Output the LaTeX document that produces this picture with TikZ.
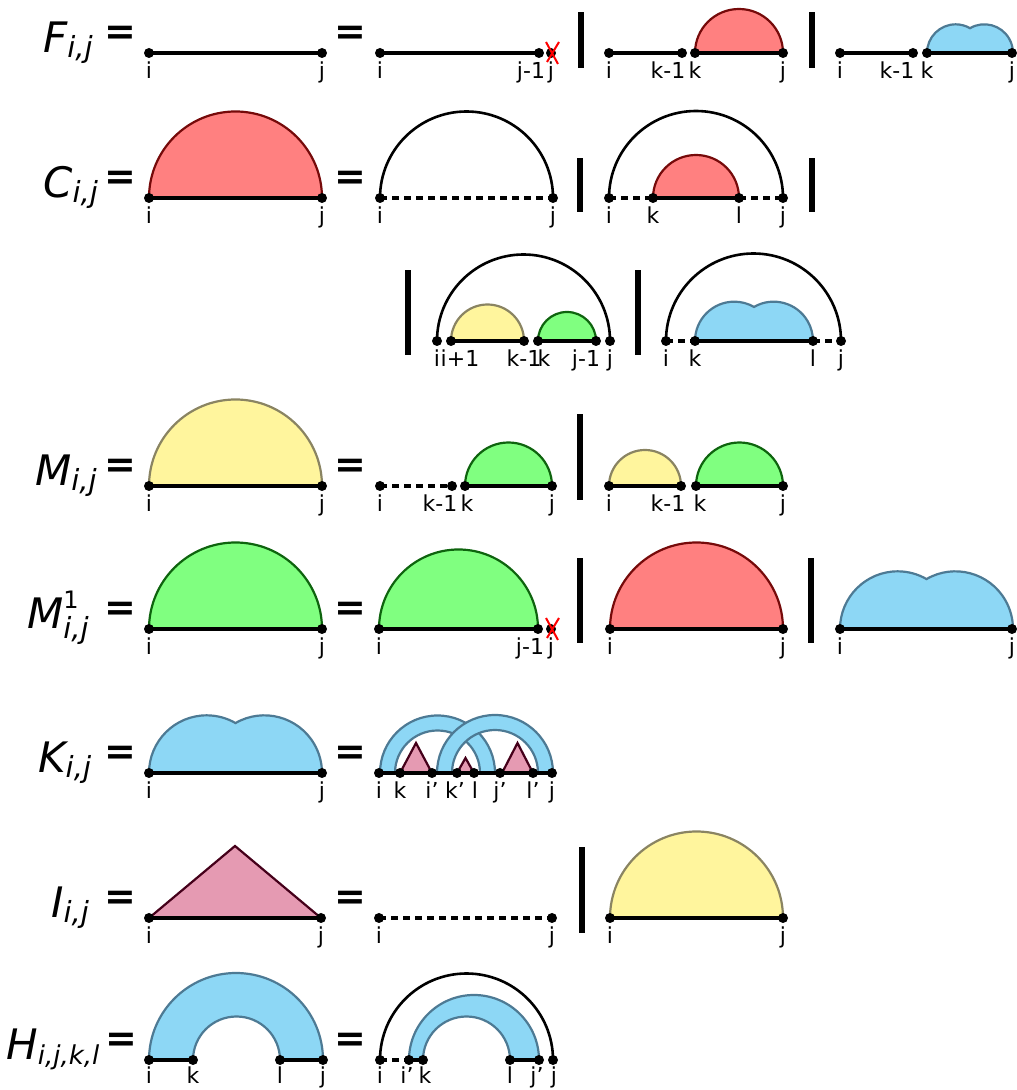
\documentclass[tikz,border=0pt]{standalone}
\usepackage{fontspec}
\setmainfont{DejaVu Sans}
\usepackage{xcolor}
\definecolor{cRed}{HTML}{FF8080}
\definecolor{cRedLine}{HTML}{760A0A}
\definecolor{cBlue}{HTML}{8DD7F5}
\definecolor{cBlueLine}{HTML}{4D7A94}
\definecolor{cYellow}{HTML}{FFF59D}
\definecolor{cYellowLine}{HTML}{8A8462}
\definecolor{cGreen}{HTML}{80FF80}
\definecolor{cGreenLine}{HTML}{0E640E}
\definecolor{cPink}{HTML}{E59AB2}
\definecolor{cPinkLine}{HTML}{45001A}
\usepackage{tikz}
\usetikzlibrary{positioning}
\tikzset{
  node-name/.style={anchor=base west,inner sep=0pt,
    font=\fontsize{42}{42}\selectfont\itshape},
  node-eq/.style={inner sep=0pt,font=\fontsize{38}{38}\selectfont\bfseries},
  node-lab/.style={anchor=base,inner sep=0pt,font=\fontsize{22}{22}\selectfont},
  line-solid/.style={line width=4.6pt},
  line-dot/.style={line width=4.6pt,dash pattern=on 7pt off 5pt},
  line-bar/.style={line width=5.5pt},
  line-hoop/.style={line width=2.6pt},
  loop-red/.style={fill=cRed,draw=cRedLine,line width=2.2pt},
  loop-blue/.style={fill=cBlue,draw=cBlueLine,line width=2.2pt},
  loop-yellow/.style={fill=cYellow,draw=cYellowLine,line width=2.2pt},
  loop-green/.style={fill=cGreen,draw=cGreenLine,line width=2.2pt},
  loop-pink/.style={fill=cPink,draw=cPinkLine,line width=2.2pt},
  mark-cross/.style={draw=red,line width=2pt},
}
\newcounter{pnt}
% point on the backbone with its label below
\newcommand{\pnt}[3][]{\stepcounter{pnt}\fill (#2,0) circle[radius=5pt];
  \node[node-lab,#1] (p\thepnt) at (#2,-26) {#3};}
\newcommand{\halfdisc}[3]{\path[#1] (#2,0)
  arc[start angle=180,end angle=0,radius={(#3-#2)/2*1pt}] -- cycle;}
\newcommand{\kbump}[3]{\path[#1] (#2,0)
  arc[start angle=180,end angle=60,radius={(#3-#2)/3*1pt}]
  arc[start angle=120,end angle=0,radius={(#3-#2)/3*1pt}] -- cycle;}
\newcommand{\band}[5]{\path[#1] (#2,0)
  arc[start angle=180,end angle=0,radius={(#3-#2)/2*1pt}] -- (#5,0)
  arc[start angle=0,end angle=180,radius={(#5-#4)/2*1pt}] -- cycle;}
\newcommand{\hoop}[2]{\draw[line-hoop] (#1,0)
  arc[start angle=180,end angle=0,radius={(#2-#1)/2*1pt}];}
\newcommand{\vbar}[3]{\draw[line-bar] (#1,#2) -- (#1,#3);}
\newcommand{\xout}[1]{\draw[mark-cross] (#1-6,11) -- (#1+6,-11) (#1+7,11) -- (#1-5,-9);}
\newcommand{\fname}[3][29]{#2\raisebox{-5pt}{\fontsize{#1}{#1}\selectfont #3}}

\begin{document}
\begin{tikzpicture}[x=1pt,y=1pt]
  \useasboundingbox (0,0) rectangle (1017,1090);

  % F
  \begin{scope}[yshift=1037pt]
    \node[node-name] (nF) at (43,0) {\fname{F}{i,j}};
    \node[node-eq] (eqF1) at (120,18) {=};
    \node[node-eq] (eqF2) at (350,18) {=};
    \draw[line-solid] (149,0) -- (322,0);
    \pnt{149}{i} \pnt{322}{j}
    \draw[line-solid] (380,0) -- (539,0);
    \pnt{380}{i} \pnt[xshift=-8pt]{539}{j-1} \pnt{551}{j} \xout{552}
    \vbar{581}{-15}{41}
    \halfdisc{loop-red}{695}{783}
    \draw[line-solid] (609,0) -- (682,0) (695,0) -- (783,0);
    \pnt{609}{i} \pnt[xshift=-14pt]{682}{k-1} \pnt{695}{k} \pnt{783}{j}
    \vbar{812}{-15}{41}
    \kbump{loop-blue}{927}{1013}
    \draw[line-solid] (840,0) -- (913,0) (927,0) -- (1013,0);
    \pnt{840}{i} \pnt[xshift=-16pt]{913}{k-1} \pnt{927}{k} \pnt{1012}{j}
  \end{scope}

  % C
  \begin{scope}[yshift=892pt]
    \node[node-name] (nC) at (43,0) {\fname{C}{i,j}};
    \node[node-eq] (eqC1) at (120,18) {=};
    \node[node-eq] (eqC2) at (350,18) {=};
    \halfdisc{loop-red}{149}{322}
    \draw[line-solid] (149,0) -- (322,0);
    \pnt{149}{i} \pnt{322}{j}
    \hoop{380}{553}
    \draw[line-dot] (380,0) -- (553,0);
    \pnt{380}{i} \pnt{553}{j}
    \vbar{580}{-14}{40}
    \hoop{609}{783}
    \halfdisc{loop-red}{653}{739}
    \draw[line-dot] (609,0) -- (653,0) (739,0) -- (783,0);
    \draw[line-solid] (653,0) -- (739,0);
    \pnt{609}{i} \pnt{653}{k} \pnt{739}{l} \pnt{783}{j}
    \vbar{812}{-14}{40}
  \end{scope}

  % C, continued
  \begin{scope}[yshift=749pt]
    \vbar{408}{-14}{71}
    \hoop{437}{610}
    \halfdisc{loop-yellow}{451}{524}
    \halfdisc{loop-green}{538}{596}
    \draw[line-solid] (451,0) -- (524,0) (538,0) -- (596,0);
    \pnt{437}{i} \pnt[xshift=9pt]{451}{i+1} \pnt{524}{k-1}
    \pnt[xshift=6pt]{538}{k} \pnt[xshift=-10pt]{596}{j-1} \pnt{610}{j}
    \vbar{638}{-14}{71}
    \hoop{666}{841}
    \kbump{loop-blue}{695}{813}
    \draw[line-dot] (666,0) -- (695,0) (813,0) -- (841,0);
    \draw[line-solid] (695,0) -- (813,0);
    \pnt{666}{i} \pnt{695}{k} \pnt{813}{l} \pnt{841}{j}
  \end{scope}

  % M
  \begin{scope}[yshift=604pt]
    \node[node-name] (nM) at (35,0) {\fname{M}{i,j}};
    \node[node-eq] (eqM1) at (120,18) {=};
    \node[node-eq] (eqM2) at (350,18) {=};
    \halfdisc{loop-yellow}{149}{322}
    \draw[line-solid] (149,0) -- (322,0);
    \pnt{149}{i} \pnt{322}{j}
    \halfdisc{loop-green}{465}{552}
    \draw[line-dot] (380,0) -- (452,0);
    \draw[line-solid] (465,0) -- (552,0);
    \pnt{380}{i} \pnt[xshift=-12pt]{452}{k-1} \pnt[xshift=2pt]{465}{k} \pnt{552}{j}
    \vbar{580}{-14}{72}
    \halfdisc{loop-yellow}{609}{681}
    \halfdisc{loop-green}{696}{783}
    \draw[line-solid] (609,0) -- (681,0) (696,0) -- (783,0);
    \pnt{609}{i} \pnt[xshift=-13pt]{681}{k-1} \pnt[xshift=4pt]{696}{k} \pnt{783}{j}
  \end{scope}

  % M1
  \begin{scope}[yshift=461pt]
    \node[node-name] (nM1) at (27,0) {M\rlap{\raisebox{20pt}{\upshape\fontsize{24}{24}\selectfont 1}}%
      \raisebox{-10pt}{\fontsize{29}{29}\selectfont i,j}};
    \node[node-eq] (eqN1) at (120,18) {=};
    \node[node-eq] (eqN2) at (350,18) {=};
    \halfdisc{loop-green}{149}{322}
    \draw[line-solid] (149,0) -- (322,0);
    \pnt{149}{i} \pnt{322}{j}
    \halfdisc{loop-green}{379}{538}
    \draw[line-solid] (379,0) -- (538,0);
    \pnt{379}{i} \pnt[xshift=-8pt]{538}{j-1} \pnt{551}{j} \xout{552}
    \vbar{580}{-14}{71}
    \halfdisc{loop-red}{610}{783}
    \draw[line-solid] (610,0) -- (783,0);
    \pnt{610}{i} \pnt{783}{j}
    \vbar{811}{-14}{71}
    \kbump{loop-blue}{840}{1013}
    \draw[line-solid] (840,0) -- (1013,0);
    \pnt{840}{i} \pnt{1012}{j}
  \end{scope}

  % K
  \begin{scope}[yshift=317pt]
    \node[node-name] (nK) at (38,0) {\fname{K}{i,j}};
    \node[node-eq] (eqK1) at (120,18) {=};
    \node[node-eq] (eqK2) at (350,18) {=};
    \kbump{loop-blue}{149}{322}
    \draw[line-solid] (149,0) -- (322,0);
    \pnt{149}{i} \pnt{322}{j}
    \band{loop-blue}{380}{495}{395}{480}
    \band{loop-blue}{437}{553}{452}{538}
    \path[loop-pink] (400,0) -- (416,30) -- (432,0) -- cycle;
    \path[loop-pink] (457,0) -- (465.5,15) -- (474,0) -- cycle;
    \path[loop-pink] (502,0) -- (517.5,30) -- (533,0) -- cycle;
    \draw[line-solid] (379,0) -- (552,0);
    \pnt{379}{i} \pnt{400}{k} \pnt{432}{i'} \pnt[xshift=-2pt]{457}{k'} \pnt[xshift=1pt]{474}{l}
    \pnt{500}{j'} \pnt{533}{l'} \pnt{552}{j}
  \end{scope}

  % I
  \begin{scope}[yshift=172pt]
    \node[node-name] (nI) at (51,0) {\fname{I}{i,j}};
    \node[node-eq] (eqI1) at (120,18) {=};
    \node[node-eq] (eqI2) at (350,18) {=};
    \path[loop-pink] (149,0) -- (235,72) -- (321,0) -- cycle;
    \draw[line-solid] (149,0) -- (321,0);
    \pnt{149}{i} \pnt{321}{j}
    \draw[line-dot] (379,0) -- (552,0);
    \pnt{379}{i} \pnt{552}{j}
    \vbar{582}{-15}{71}
    \halfdisc{loop-yellow}{610}{783}
    \draw[line-solid] (610,0) -- (783,0);
    \pnt{610}{i} \pnt{783}{j}
  \end{scope}

  % H
  \begin{scope}[yshift=30pt,every node/.append style={yshift=2pt}]
    \node[node-name] (nH) at (6,-2) {\fname[26]{H}{i,j,k,l}};
    \node[node-eq] (eqH1) at (121,16) {=};
    \node[node-eq] (eqH2) at (350,16) {=};
    \band{loop-blue}{149}{323}{193}{280}
    \draw[line-solid] (149,0) -- (193,0) (280,0) -- (323,0);
    \pnt{149}{i} \pnt{193}{k} \pnt{280}{l} \pnt{323}{j}
    \hoop{380}{553}
    \band{loop-blue}{409}{539}{423}{510}
    \draw[line-dot] (380,0) -- (409,0);
    \draw[line-solid] (409,0) -- (423,0) (510,0) -- (539,0);
    \pnt{380}{i} \pnt[xshift=-2pt]{409}{i'} \pnt[xshift=2pt]{423}{k} \pnt{510}{l}
    \pnt[xshift=-2pt]{539}{j'} \pnt[xshift=1pt]{553}{j}
  \end{scope}
\end{tikzpicture}
\end{document}
